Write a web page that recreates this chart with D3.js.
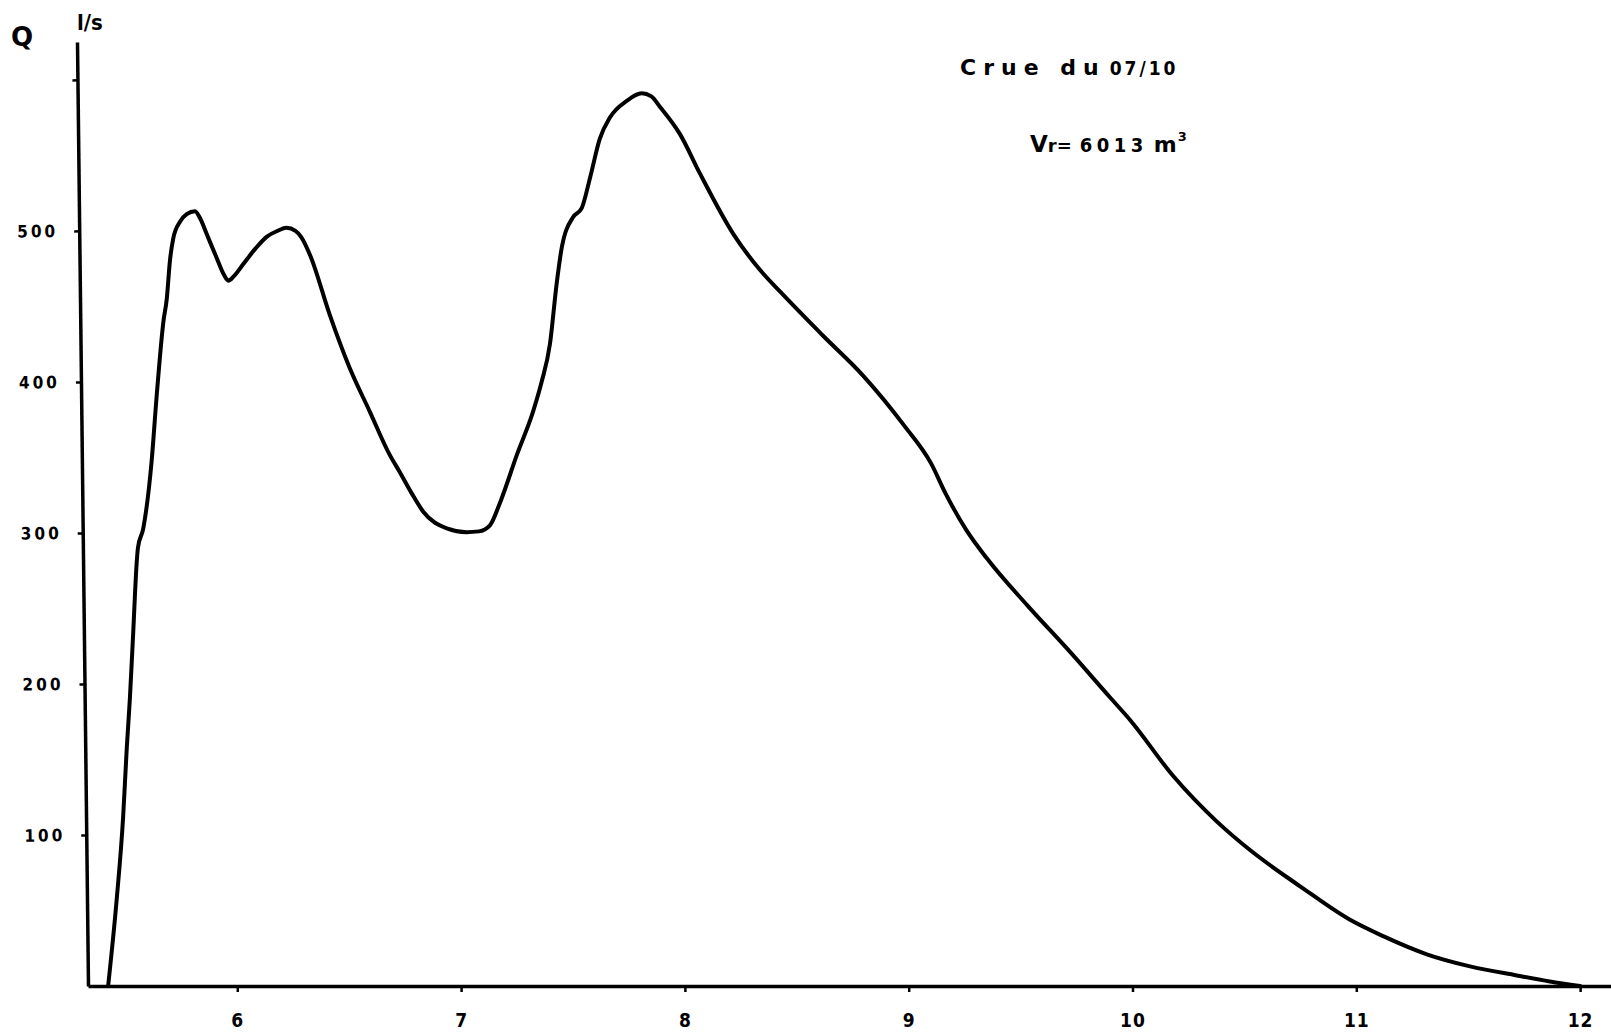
<!DOCTYPE html>
<html>
<head>
<meta charset="utf-8">
<script src="https://cdn.jsdelivr.net/npm/d3@7"></script>
<style>
  body { margin: 0; background: #fff; }
  svg { display: block; }
</style>
</head>
<body>
<svg id="chart" width="1611" height="1035"></svg>
<script>
// Hydrograph of the 07/10 flood: time (hours) and discharge Q (l/s)
const hours = [
  5.423, 5.461, 5.49, 5.506, 5.52, 5.535, 5.55, 5.556, 5.58, 5.617,
  5.64, 5.67, 5.685, 5.699, 5.714, 5.744, 5.774, 5.811, 5.835, 5.863,
  5.908, 5.94, 5.96, 5.985, 6.027, 6.08, 6.131, 6.18, 6.22, 6.26,
  6.285, 6.325, 6.414, 6.5, 6.593, 6.68, 6.727, 6.78, 6.831, 6.936,
  7.025, 7.08, 7.129, 7.174, 7.25, 7.323, 7.36, 7.397, 7.427, 7.45,
  7.5, 7.539, 7.576, 7.62, 7.665, 7.74, 7.807, 7.85, 7.889, 7.978,
  8.067, 8.216, 8.336, 8.43, 8.614, 8.797, 8.98, 9.1, 9.165, 9.257,
  9.35, 9.53, 9.716, 9.9, 9.99, 10.182, 10.376, 10.525, 10.749, 10.97,
  11.12, 11.315, 11.508, 11.717, 11.865, 12.0
];
const discharge = [
  0, 57, 112, 157, 190, 234, 279, 290, 303, 347,
  391, 440, 455, 480, 495, 506, 511, 513, 508, 498,
  482, 471, 467, 470, 478, 488, 496, 500, 502, 500,
  496, 484, 444, 410, 380, 352, 340, 326, 314, 303,
  300.5, 301, 305, 320, 352, 381, 400, 425, 465, 489,
  509, 515, 535, 561, 575, 586, 591, 589, 582, 564,
  538, 498, 474, 459, 431, 404, 371, 346, 326, 302,
  283, 252, 222, 191, 176, 139, 109, 90, 66, 44,
  33, 21, 13, 7, 3, 0
];

const xTicks = [6, 7, 8, 9, 10, 11, 12];
const xTickLabels = ["6", "7", "8", "9", "10", "11", "12"];
const yTicks = [100, 200, 300, 400, 500, 600];
const yTickLabels = ["100", "200", "300", "400", "500", ""];

const titleText = "Crue du";
const titleDate = "07/10";
const volumeLabel = "Vr=";
const volumeValue = "6013";
const volumeUnit = "m";

const svg = d3.select("#chart");
const W = 1611, H = 1035;
const x0 = 88, y0 = 986;

const x = d3.scaleLinear().domain([5.333, 12.138]).range([x0, W]);
const y = d3.scaleLinear().domain([0, 625]).range([y0, 42]);

const data = hours.map((t, i) => ({ t, q: discharge[i] }));

const narrow = "'Liberation Sans Narrow', 'DejaVu Sans Condensed', sans-serif";
const heavy = "'DejaVu Sans', sans-serif";

// x axis
const gx = svg.append("g")
  .attr("transform", `translate(0,${y0})`)
  .call(d3.axisBottom(x)
    .tickValues(xTicks)
    .tickSize(6)
    .tickSizeOuter(0)
    .tickPadding(22)
    .tickFormat((d, i) => xTickLabels[i]));
gx.select(".domain").attr("stroke", "#000").attr("stroke-width", 3.5);
gx.selectAll(".tick line").attr("stroke", "#000").attr("stroke-width", 2.5);
gx.selectAll(".tick text")
  .attr("fill", "#000")
  .attr("font-family", narrow)
  .attr("font-weight", "bold")
  .attr("font-size", 19)
  .attr("letter-spacing", 1);

// y axis (slightly leaning, as drawn on the sheet)
const gy = svg.append("g")
  .attr("transform", `translate(${x0},0) rotate(-0.668, 0, ${y0})`)
  .call(d3.axisLeft(y)
    .tickValues(yTicks)
    .tickSize(5)
    .tickSizeOuter(0)
    .tickPadding(16)
    .tickFormat((d, i) => yTickLabels[i]));
gy.select(".domain").attr("stroke", "#000").attr("stroke-width", 3.5);
gy.selectAll(".tick line").attr("stroke", "#000").attr("stroke-width", 2.5);
gy.selectAll(".tick text")
  .attr("fill", "#000")
  .attr("font-family", narrow)
  .attr("font-weight", "bold")
  .attr("font-size", 17)
  .attr("letter-spacing", 3);

// axis titles
svg.append("text")
  .attr("x", 11).attr("y", 46)
  .attr("font-family", heavy)
  .attr("font-weight", "bold")
  .attr("font-size", 26)
  .text("Q");
svg.append("text")
  .attr("x", 77).attr("y", 30)
  .attr("font-family", narrow)
  .attr("font-weight", "bold")
  .attr("font-size", 22)
  .text("l/s");

// hydrograph
const line = d3.line()
  .x(d => x(d.t))
  .y(d => y(d.q))
  .curve(d3.curveMonotoneX);

svg.append("path")
  .datum(data)
  .attr("d", line)
  .attr("fill", "none")
  .attr("stroke", "#000")
  .attr("stroke-width", 4)
  .attr("stroke-linejoin", "round")
  .attr("stroke-linecap", "round");

// title block
const t1 = svg.append("text")
  .attr("x", 960).attr("y", 75)
  .attr("fill", "#000");
t1.append("tspan")
  .attr("font-family", heavy)
  .attr("font-weight", "bold")
  .attr("font-size", 22)
  .attr("letter-spacing", 7)
  .text(titleText);
t1.append("tspan")
  .attr("dx", 4)
  .attr("font-family", narrow)
  .attr("font-weight", "bold")
  .attr("font-size", 19)
  .attr("letter-spacing", 3)
  .text(titleDate);

const t2 = svg.append("text")
  .attr("x", 1030).attr("y", 152)
  .attr("fill", "#000");
t2.append("tspan")
  .attr("font-family", heavy)
  .attr("font-weight", "bold")
  .attr("font-size", 23)
  .text("V");
t2.append("tspan")
  .attr("font-family", heavy)
  .attr("font-weight", "bold")
  .attr("font-size", 18)
  .text(volumeLabel.slice(1));
t2.append("tspan")
  .attr("dx", 8)
  .attr("font-family", narrow)
  .attr("font-weight", "bold")
  .attr("font-size", 20)
  .attr("letter-spacing", 4.5)
  .text(volumeValue);
t2.append("tspan")
  .attr("dx", 6)
  .attr("font-family", heavy)
  .attr("font-weight", "bold")
  .attr("font-size", 22)
  .text(volumeUnit);
t2.append("tspan")
  .attr("dx", 1)
  .attr("font-family", heavy)
  .attr("font-weight", "bold")
  .attr("font-size", 13)
  .attr("dy", -11)
  .text("3");
</script>
</body>
</html>
